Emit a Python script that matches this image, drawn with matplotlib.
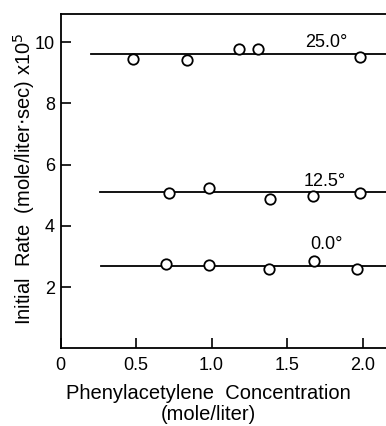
import matplotlib.pyplot as plt
import numpy as np

plt.rcParams['font.family'] = ['Liberation Sans', 'DejaVu Sans']

# temperatures and measured initial rates (x 10^5 mole/liter.sec)
temps = ['25.0°', '12.5°', '0.0°']
conc_25 = [0.48, 0.84, 1.18, 1.31, 1.98]
rate_25 = [9.45, 9.42, 9.78, 9.78, 9.51]
conc_125 = [0.72, 0.98, 1.39, 1.67, 1.98]
rate_125 = [5.08, 5.23, 4.88, 4.98, 5.08]
conc_0 = [0.70, 0.98, 1.38, 1.68, 1.96]
rate_0 = [2.76, 2.73, 2.60, 2.86, 2.60]

# fitted horizontal lines: level and start
line_levels = [9.61, 5.11, 2.69]
line_starts = [0.20, 0.26, 0.27]
label_pos = [(1.76, 9.98), (1.75, 5.46), (1.76, 3.38)]

fig = plt.figure(figsize=(3.86, 4.26), dpi=100)
ax = fig.add_axes([0.157, 0.182, 0.843, 0.785])

series = [(conc_25, rate_25), (conc_125, rate_125), (conc_0, rate_0)]
for i, (cx, ry) in enumerate(series):
    ax.plot([line_starts[i], 2.2], [line_levels[i], line_levels[i]],
            color='black', lw=1.3)
    ax.plot(cx, ry, 'o', ms=7.5, mfc='white', mec='black', mew=1.3)
    ax.text(label_pos[i][0], label_pos[i][1], temps[i], fontsize=13,
            ha='center', va='center')

ax.set_xlim(0, 2.155)
ax.set_ylim(0, 10.92)
ax.set_xticks([0, 0.5, 1.0, 1.5, 2.0])
ax.set_xticklabels(['0', '0.5', '1.0', '1.5', '2.0'])
ax.set_yticks([2, 4, 6, 8, 10])
ax.tick_params(direction='in', length=7, width=1.2, labelsize=13, pad=4)
ax.tick_params(axis='x', pad=6)
ax.spines['right'].set_visible(False)
for s in ['left', 'top', 'bottom']:
    ax.spines[s].set_linewidth(1.3)

fig.text(0.062, 0.58, 'Initial  Rate  (mole/liter$\\cdot$sec) x10$^5$',
         rotation=90, fontsize=14.5, ha='center', va='center')
fig.text(0.54, 0.077, 'Phenylacetylene  Concentration', fontsize=14.5,
         ha='center', va='center')
fig.text(0.54, 0.026, '(mole/liter)', fontsize=14.5, ha='center', va='center')

fig.savefig('out.png', dpi=100)
